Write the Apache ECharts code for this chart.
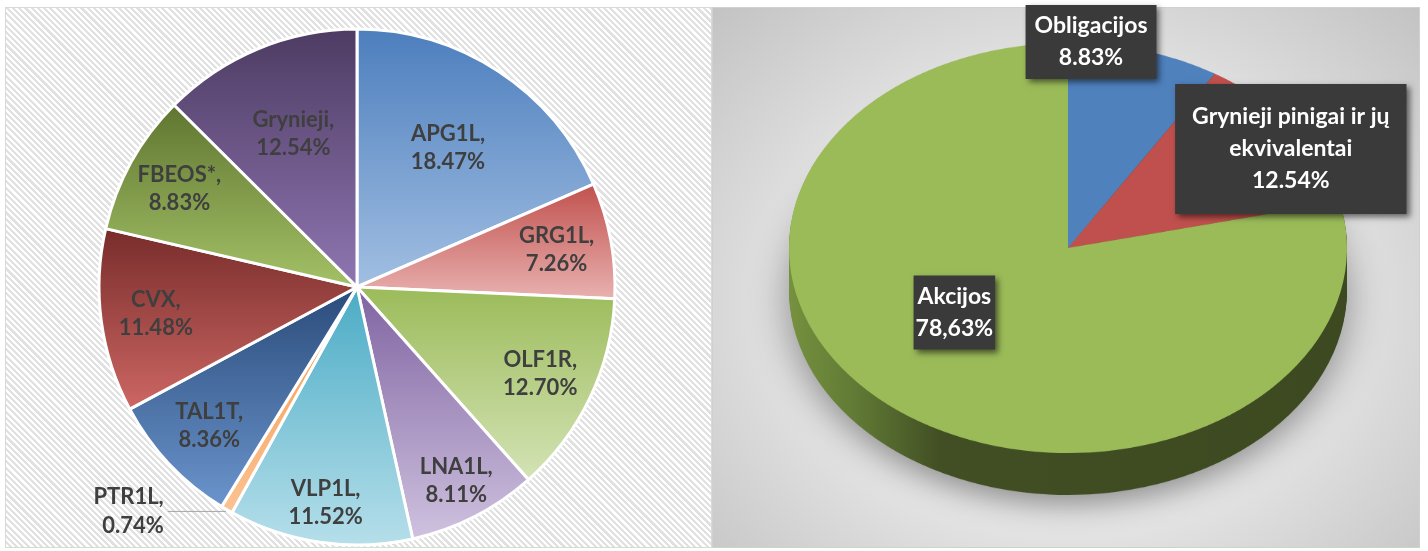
<!DOCTYPE html>
<html>
<head>
<meta charset="utf-8">
<script src="https://cdn.jsdelivr.net/npm/echarts@6/dist/echarts.min.js"></script>
<style>
html,body{margin:0;padding:0;background:#ffffff;}
#page{position:relative;width:1428px;height:551px;overflow:hidden;background:#fff;}
#leftBg{position:absolute;left:5px;top:7px;width:705px;height:539px;border:1px solid #d9d9d9;
  background:repeating-linear-gradient(45deg,#ffffff 0px,#ffffff 2.2px,#e1e1e1 2.2px,#e1e1e1 4.4px);}
#rightBg{position:absolute;left:712px;top:7px;width:706px;height:539px;border:1px solid #d0d0d0;
  background:radial-gradient(farthest-corner at 50% 55%, #f3f3f3 0%, #e6e6e6 50%, #c3c3c3 100%);}
#pie3d{position:absolute;left:712px;top:7px;width:708px;height:736px;transform:scaleY(0.7348);transform-origin:0 0;}
#main{position:absolute;left:0;top:0;width:1428px;height:551px;}
</style>
</head>
<body>
<div id="page">
  <div id="leftBg"></div>
  <div id="rightBg"></div>
  <div id="pie3d"></div>
  <div id="main"></div>
</div>
<script>
// ---------- data ----------
const leftNames  = ['APG1L', 'GRG1L', 'OLF1R', 'LNA1L', 'VLP1L', 'PTR1L', 'TAL1T', 'CVX', 'FBEOS*', 'Grynieji'];
const leftValues = [18.47, 7.26, 12.70, 8.11, 11.52, 0.74, 8.36, 11.48, 8.83, 12.54];

const rightNames  = ['Obligacijos', 'Grynieji pinigai ir jų\nekvivalentai', 'Akcijos'];
const rightValues = [8.83, 12.54, 78.63];
const rightValueLabels = ['8.83%', '12.54%', '78,63%'];

// ---------- styles ----------
const leftGradients = [
  ['#4c7ebd', '#a2bfe2'],
  ['#c0504d', '#e9b2b0'],
  ['#9bbb59', '#d4e3b6'],
  ['#7f63a1', '#cfc2df'],
  ['#4aabc5', '#b6dfea'],
  ['#f79646', '#fbc393'],
  ['#2a4b7a', '#6b95cd'],
  ['#772c2a', '#cd6764'],
  ['#5f7530', '#a4c267'],
  ['#4d3b62', '#8f76b2']
];
const leftLabelRadius = [163, 200, 200, 215, 215, null, 200, 200, 200, 163];
const rightColors = ['#4f81bd', '#c0504d', '#9bbb59'];
const rightShift = [[-16, -69], [107, -16], [-25, -47]];
const rightPadding = [[5, 9], [17, 17], [5, 2]];

const FONT = 'Lato';
const labelColor = '#3f3f3f';

function grad(c0, c1) {
  return {type: 'linear', x: 0, y: 0, x2: 0, y2: 1,
    colorStops: [{offset: 0, color: c0}, {offset: 1, color: c1}]};
}
const leftFmt = p => p.name + ',\n' + p.value.toFixed(2) + '%';

// ---------- main (left pie + right labels) ----------
const main = echarts.init(document.getElementById('main'));
const series = [];

series.push({
  type: 'pie', center: [357, 287], radius: 258, startAngle: 90, clockwise: true,
  avoidLabelOverlap: false, silent: true, animation: false,
  itemStyle: {borderColor: '#ffffff', borderWidth: 3},
  label: {show: false}, labelLine: {show: false},
  emphasis: {disabled: true},
  data: leftNames.map((n, i) => {
    const d = {name: n, value: leftValues[i], itemStyle: {color: grad(leftGradients[i][0], leftGradients[i][1])}};
    if (leftLabelRadius[i] === null) {
      d.label = {show: true, position: 'outside', formatter: leftFmt, color: labelColor,
        fontFamily: FONT, fontWeight: 'bold', fontSize: 22, lineHeight: 29, distanceToLabelLine: 4};
      d.labelLine = {show: true, length: 2, length2: 58, lineStyle: {color: '#a6a6a6', width: 1}};
    }
    return d;
  })
});

const radii = [...new Set(leftLabelRadius.filter(r => r !== null))];
radii.forEach(r => {
  series.push({
    type: 'pie', center: [357, 287], radius: [0, 2 * r], startAngle: 90, clockwise: true,
    avoidLabelOverlap: false, silent: true, animation: false,
    itemStyle: {color: 'rgba(0,0,0,0)', borderWidth: 0},
    emphasis: {disabled: true},
    labelLine: {show: false},
    label: {show: true, position: 'inside', formatter: leftFmt, color: labelColor,
      fontFamily: FONT, fontWeight: 'bold', fontSize: 22, lineHeight: 28},
    data: leftNames.map((n, i) => ({name: n, value: leftValues[i],
      label: {show: leftLabelRadius[i] === r}}))
  });
});

series.push({
  type: 'pie', center: [1068, 248], radius: 279, startAngle: 90, clockwise: true,
  avoidLabelOverlap: false, silent: true, animation: false,
  itemStyle: {color: 'rgba(0,0,0,0)', borderWidth: 0},
  emphasis: {disabled: true},
  labelLine: {show: false},
  label: {show: true, position: 'inside',
    formatter: p => rightNames[p.dataIndex] + '\n' + rightValueLabels[p.dataIndex],
    color: '#ffffff', fontFamily: FONT, fontWeight: 'bold', fontSize: 23, lineHeight: 32,
    backgroundColor: '#3a3a3a', shadowBlur: 6, shadowColor: 'rgba(0,0,0,0.55)',
    shadowOffsetX: 3, shadowOffsetY: 3},
  labelLayout: p => ({dx: rightShift[p.dataIndex][0], dy: rightShift[p.dataIndex][1]}),
  data: rightNames.map((n, i) => ({name: n, value: rightValues[i],
    label: {padding: rightPadding[i]}}))
});

main.setOption({animation: false, series: series});

// ---------- right 3D pie (scaled vertically by CSS) ----------
const pie3d = echarts.init(document.getElementById('pie3d'));
const sideGrad = {type: 'linear', x: 0, y: 0, x2: 1, y2: 0, colorStops: [
  {offset: 0, color: '#76913f'}, {offset: 0.12, color: '#617a35'},
  {offset: 0.27, color: '#424f24'}, {offset: 1, color: '#3d4a21'}]};
const depth = 57, topY = 328, cx = 356, R = 279;
const s3 = [];
for (let k = depth; k >= 1; k -= 2) {
  const sObj = {
    type: 'pie', center: [cx, topY + k], radius: R, startAngle: 90, clockwise: true,
    silent: true, animation: false, label: {show: false}, labelLine: {show: false},
    emphasis: {disabled: true},
    itemStyle: {color: sideGrad, borderWidth: 0},
    data: rightNames.map((n, i) => ({name: n, value: rightValues[i]}))
  };
  if (k === depth) {
    sObj.itemStyle = {color: sideGrad, borderWidth: 0, shadowBlur: 38,
      shadowColor: 'rgba(0,0,0,0.38)', shadowOffsetY: 14};
  }
  s3.push(sObj);
}
s3.push({
  type: 'pie', center: [cx, topY], radius: R, startAngle: 90, clockwise: true,
  silent: true, animation: false, label: {show: false}, labelLine: {show: false},
  emphasis: {disabled: true},
  itemStyle: {borderWidth: 0},
  data: rightNames.map((n, i) => ({name: n, value: rightValues[i], itemStyle: {color: rightColors[i]}}))
});
pie3d.setOption({animation: false, series: s3});
</script>
</body>
</html>
